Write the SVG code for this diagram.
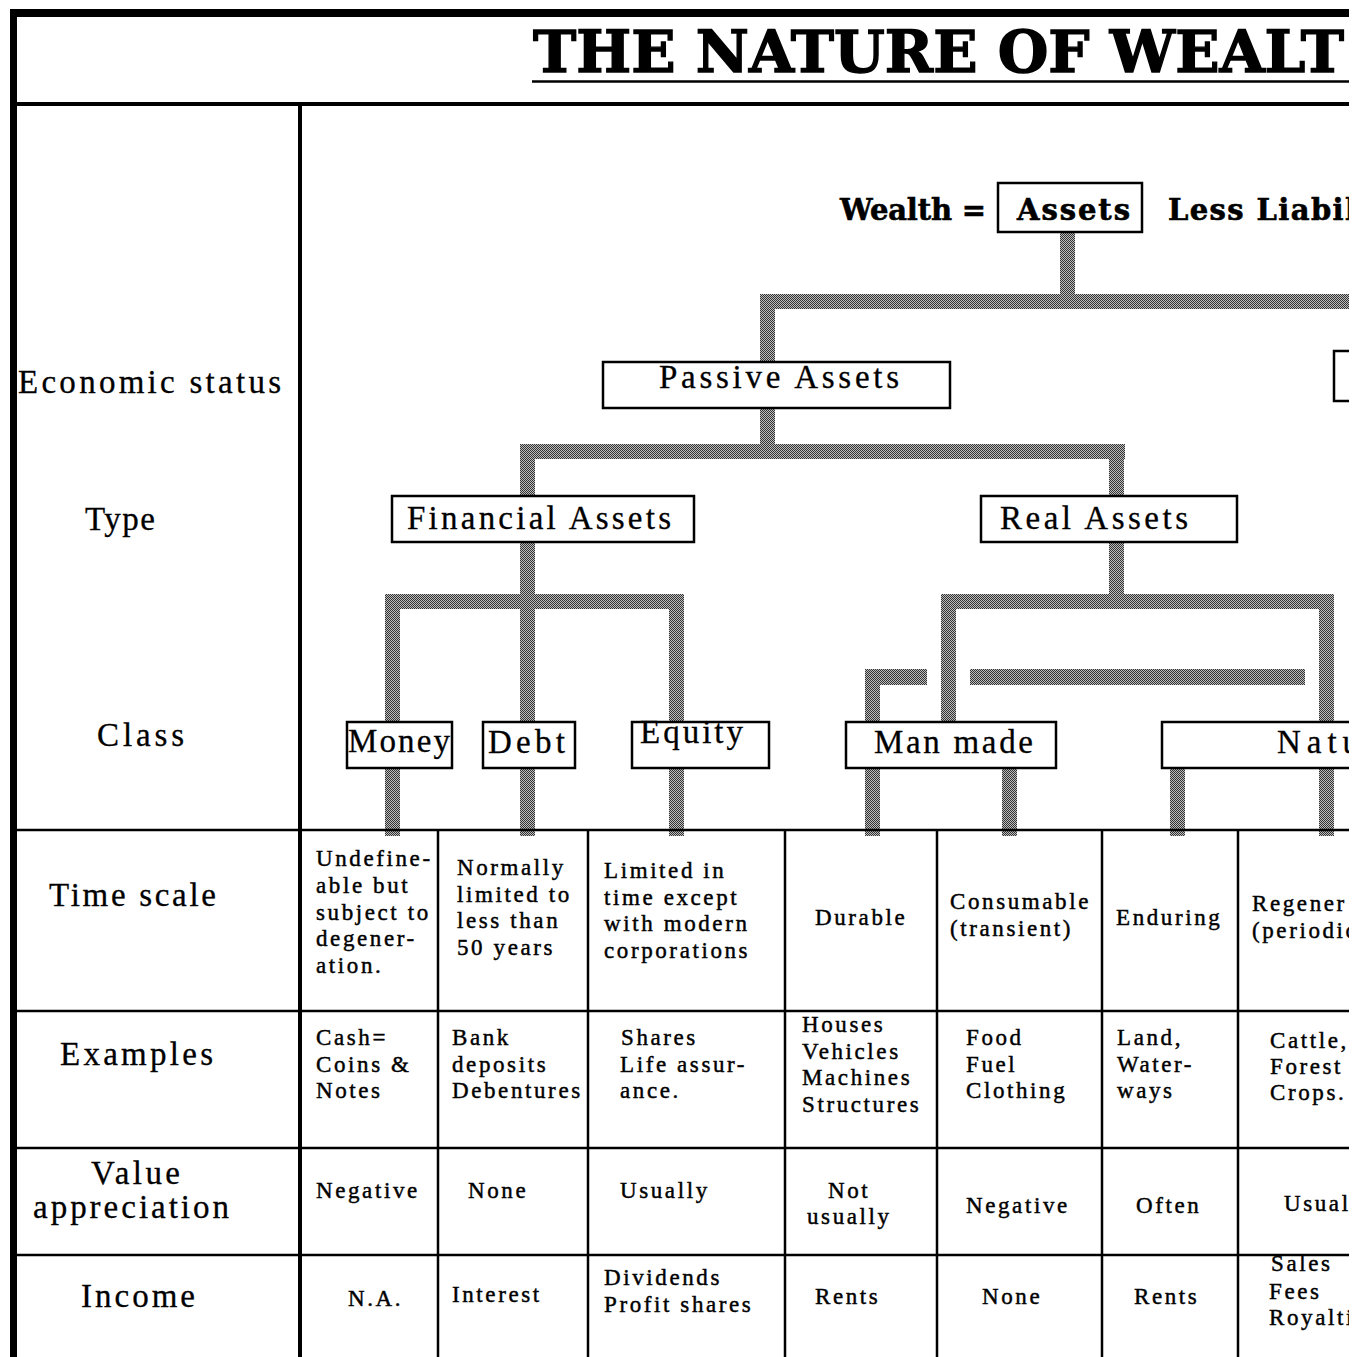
<svg xmlns="http://www.w3.org/2000/svg" width="1364" height="1357" viewBox="0 0 1364 1357">
<style>
.lbl{font-family:"Liberation Serif",serif;font-size:33px;fill:#000;stroke:#000;stroke-width:0.3}
.cell{font-family:"Liberation Serif",serif;font-size:23px;letter-spacing:2.6px;fill:#000;stroke:#000;stroke-width:0.45}
.bold{font-family:"DejaVu Serif",serif;font-weight:bold;font-size:29px;fill:#000;stroke:#000;stroke-width:0.6}
.title{font-family:"DejaVu Serif",serif;font-weight:bold;font-size:58px;fill:#000;stroke:#000;stroke-width:1.4}
.box{fill:#fff;stroke:#000;stroke-width:2.5}
.ln{stroke:#000;stroke-width:2.5}
.bar{fill:url(#dither)}
</style>
<defs>
<pattern id="dither" width="2" height="2" patternUnits="userSpaceOnUse">
<rect width="2" height="2" fill="#bdbdbd"/>
<rect width="1" height="1" fill="#333"/>
<rect x="1" y="1" width="1" height="1" fill="#333"/>
</pattern>
<clipPath id="clip"><rect x="0" y="0" width="1349" height="1357"/></clipPath>
</defs>
<rect width="1364" height="1357" fill="#fff"/>
<g clip-path="url(#clip)">
<g id="frame">
<rect x="10" y="9" width="1339" height="8" fill="#000"/>
<rect x="10" y="9" width="7" height="1348" fill="#000"/>
<rect x="10" y="102" width="1339" height="4" fill="#000"/>
<rect x="298" y="104" width="4" height="1253" fill="#000"/>
<line x1="532" y1="81.5" x2="1349" y2="81.5" stroke="#000" stroke-width="2.5"/>
<text class="title" x="533" y="72" textLength="811" lengthAdjust="spacingAndGlyphs">THE NATURE OF WEALT</text>
</g>
<g id="row-labels">
<text class="lbl" x="18" y="393" textLength="263" lengthAdjust="spacing">Economic status</text>
<text class="lbl" x="85" y="530" textLength="70" lengthAdjust="spacing">Type</text>
<text class="lbl" x="97" y="746" textLength="87" lengthAdjust="spacing">Class</text>
<text class="lbl" x="49" y="906" textLength="167" lengthAdjust="spacing">Time scale</text>
<text class="lbl" x="60" y="1065" textLength="153" lengthAdjust="spacing">Examples</text>
<text class="lbl" x="91" y="1184" textLength="89" lengthAdjust="spacing">Value</text>
<text class="lbl" x="33" y="1218" textLength="196" lengthAdjust="spacing">appreciation</text>
<text class="lbl" x="81" y="1307" textLength="114" lengthAdjust="spacing">Income</text>
</g>
<g id="connectors">
<rect class="bar" x="1060" y="232" width="15" height="70"/>
<rect class="bar" x="760" y="294" width="600" height="15"/>
<rect class="bar" x="760" y="294" width="15" height="68"/>
<rect class="bar" x="760" y="408" width="15" height="44"/>
<rect class="bar" x="520" y="444" width="605" height="15"/>
<rect class="bar" x="520" y="444" width="15" height="52"/>
<rect class="bar" x="1109" y="444" width="15" height="52"/>
<rect class="bar" x="520" y="542" width="15" height="180"/>
<rect class="bar" x="385" y="594" width="299" height="15"/>
<rect class="bar" x="385" y="594" width="15" height="128"/>
<rect class="bar" x="669" y="594" width="15" height="128"/>
<rect class="bar" x="1109" y="542" width="15" height="60"/>
<rect class="bar" x="941" y="594" width="393" height="15"/>
<rect class="bar" x="941" y="594" width="15" height="128"/>
<rect class="bar" x="1319" y="594" width="15" height="128"/>
<rect class="bar" x="970" y="669" width="335" height="16"/>
<rect class="bar" x="865" y="669" width="62" height="16"/>
<rect class="bar" x="865" y="669" width="15" height="53"/>
<rect class="bar" x="385" y="768" width="15" height="68"/>
<rect class="bar" x="520" y="768" width="15" height="68"/>
<rect class="bar" x="669" y="768" width="15" height="68"/>
<rect class="bar" x="865" y="768" width="15" height="68"/>
<rect class="bar" x="1002" y="768" width="15" height="68"/>
<rect class="bar" x="1170" y="768" width="15" height="68"/>
<rect class="bar" x="1319" y="768" width="15" height="68"/>
</g>
<g id="wealth-line">
<text class="bold" x="840" y="220" textLength="146" lengthAdjust="spacing">Wealth =</text>
<text class="bold" x="1168" y="220" textLength="188" lengthAdjust="spacing">Less Liabil</text>
</g>
<g id="node-assets">
<rect class="box" x="998" y="183" width="144" height="49"/>
<text class="bold" x="1017" y="220" textLength="113" lengthAdjust="spacing">Assets</text>
</g>
<g id="node-active">
<rect class="box" x="1334" y="351" width="100" height="50"/>
</g>
<g id="node-passive">
<rect class="box" x="603" y="362" width="347" height="46"/>
<text class="lbl" x="659" y="388" textLength="240" lengthAdjust="spacing">Passive Assets</text>
</g>
<g id="node-financial">
<rect class="box" x="392" y="496" width="302" height="46"/>
<text class="lbl" x="407" y="529" textLength="264" lengthAdjust="spacing">Financial Assets</text>
</g>
<g id="node-real">
<rect class="box" x="981" y="496" width="256" height="46"/>
<text class="lbl" x="1000" y="529" textLength="188" lengthAdjust="spacing">Real Assets</text>
</g>
<g id="node-money">
<rect class="box" x="347" y="722" width="105" height="46"/>
<text class="lbl" x="348" y="752" textLength="102" lengthAdjust="spacing">Money</text>
</g>
<g id="node-debt">
<rect class="box" x="483" y="722" width="92" height="46"/>
<text class="lbl" x="488" y="753" textLength="77" lengthAdjust="spacing">Debt</text>
</g>
<g id="node-equity">
<rect class="box" x="632" y="722" width="137" height="46"/>
<text class="lbl" x="640" y="743" textLength="103" lengthAdjust="spacing">Equity</text>
</g>
<g id="node-manmade">
<rect class="box" x="846" y="722" width="210" height="46"/>
<text class="lbl" x="874" y="753" textLength="159" lengthAdjust="spacing">Man made</text>
</g>
<g id="node-natural">
<rect class="box" x="1162" y="722" width="250" height="46"/>
<text class="lbl" x="1277" y="753" textLength="82" lengthAdjust="spacing">Natu</text>
</g>
<g id="table">
<line class="ln" x1="10" y1="830" x2="1349" y2="830"/>
<line class="ln" x1="10" y1="1011" x2="1349" y2="1011"/>
<line class="ln" x1="10" y1="1148" x2="1349" y2="1148"/>
<line class="ln" x1="10" y1="1255" x2="1349" y2="1255"/>
<line class="ln" x1="438" y1="830" x2="438" y2="1357"/>
<line class="ln" x1="588" y1="830" x2="588" y2="1357"/>
<line class="ln" x1="785" y1="830" x2="785" y2="1357"/>
<line class="ln" x1="937" y1="830" x2="937" y2="1357"/>
<line class="ln" x1="1102" y1="830" x2="1102" y2="1357"/>
<line class="ln" x1="1238" y1="830" x2="1238" y2="1357"/>
</g>
<g id="cells">
<text class="cell" x="316" y="866">Undefine-</text>
<text class="cell" x="316" y="893">able but</text>
<text class="cell" x="316" y="920">subject to</text>
<text class="cell" x="316" y="946">degener-</text>
<text class="cell" x="316" y="973">ation.</text>
<text class="cell" x="316" y="1045">Cash=</text>
<text class="cell" x="316" y="1072">Coins &amp;</text>
<text class="cell" x="316" y="1098">Notes</text>
<text class="cell" x="316" y="1198">Negative</text>
<text class="cell" x="348" y="1306">N.A.</text>

<text class="cell" x="457" y="875">Normally</text>
<text class="cell" x="457" y="902">limited to</text>
<text class="cell" x="457" y="928">less than</text>
<text class="cell" x="457" y="955">50 years</text>
<text class="cell" x="452" y="1045">Bank</text>
<text class="cell" x="452" y="1072">deposits</text>
<text class="cell" x="452" y="1098">Debentures</text>
<text class="cell" x="468" y="1198">None</text>
<text class="cell" x="452" y="1302">Interest</text>

<text class="cell" x="604" y="878">Limited in</text>
<text class="cell" x="604" y="905">time except</text>
<text class="cell" x="604" y="931">with modern</text>
<text class="cell" x="604" y="958">corporations</text>
<text class="cell" x="621" y="1045">Shares</text>
<text class="cell" x="620" y="1072">Life assur-</text>
<text class="cell" x="620" y="1098">ance.</text>
<text class="cell" x="620" y="1198">Usually</text>
<text class="cell" x="604" y="1285">Dividends</text>
<text class="cell" x="604" y="1312">Profit shares</text>

<text class="cell" x="815" y="925">Durable</text>
<text class="cell" x="802" y="1032">Houses</text>
<text class="cell" x="802" y="1059">Vehicles</text>
<text class="cell" x="802" y="1085">Machines</text>
<text class="cell" x="802" y="1112">Structures</text>
<text class="cell" x="828" y="1198">Not</text>
<text class="cell" x="807" y="1224">usually</text>
<text class="cell" x="815" y="1304">Rents</text>

<text class="cell" x="950" y="909">Consumable</text>
<text class="cell" x="950" y="936">(transient)</text>
<text class="cell" x="966" y="1045">Food</text>
<text class="cell" x="966" y="1072">Fuel</text>
<text class="cell" x="966" y="1098">Clothing</text>
<text class="cell" x="966" y="1213">Negative</text>
<text class="cell" x="982" y="1304">None</text>

<text class="cell" x="1116" y="925">Enduring</text>
<text class="cell" x="1117" y="1045">Land,</text>
<text class="cell" x="1117" y="1072">Water-</text>
<text class="cell" x="1117" y="1098">ways</text>
<text class="cell" x="1136" y="1213">Often</text>
<text class="cell" x="1134" y="1304">Rents</text>

<text class="cell" x="1252" y="911">Regener</text>
<text class="cell" x="1252" y="938">(periodic</text>
<text class="cell" x="1270" y="1048">Cattle,</text>
<text class="cell" x="1270" y="1074">Forest</text>
<text class="cell" x="1270" y="1100">Crops.</text>
<text class="cell" x="1284" y="1211">Usual</text>
<text class="cell" x="1271" y="1271">Sales</text>
<text class="cell" x="1269" y="1299">Fees</text>
<text class="cell" x="1269" y="1325">Royalti</text>
</g>
</g>
</svg>
